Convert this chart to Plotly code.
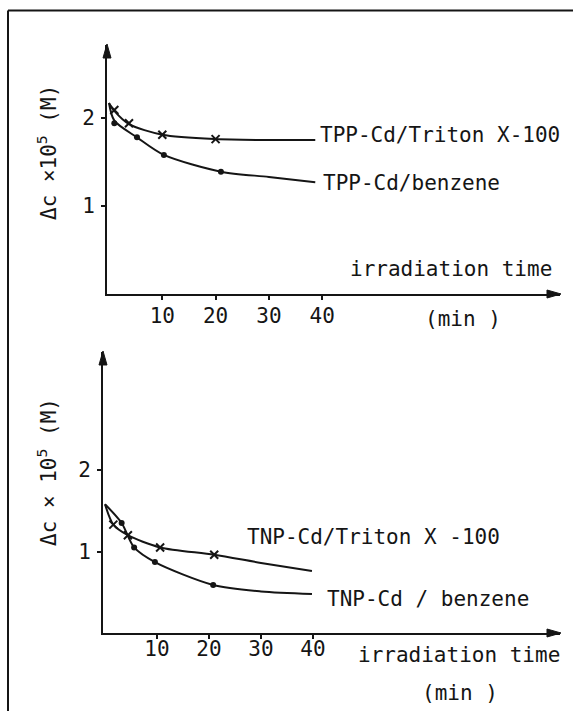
import plotly.graph_objects as go

W, H = 573, 711

# ---------------- data ----------------
# Top panel: TPP-Cd
tpp_triton_t = [1, 3.75, 10, 20]
tpp_triton_c = [2.09, 1.94, 1.81, 1.76]
tpp_triton_curve_t = [0, 1, 3.75, 10, 20, 30, 38.7]
tpp_triton_curve_c = [2.17, 2.08, 1.93, 1.81, 1.76, 1.75, 1.75]

tpp_benz_t = [1, 5.25, 10.3, 21]
tpp_benz_c = [1.94, 1.78, 1.58, 1.39]
tpp_benz_curve_t = [0, 1, 5.25, 10.3, 21, 30, 38.7]
tpp_benz_curve_c = [2.17, 1.97, 1.78, 1.58, 1.39, 1.33, 1.27]

# Bottom panel: TNP-Cd
tnp_triton_t = [1.6, 4.4, 10.6, 21]
tnp_triton_c = [1.33, 1.20, 1.05, 0.96]
tnp_triton_curve_t = [0, 1.6, 4.4, 10.6, 21, 30, 39.8]
tnp_triton_curve_c = [1.58, 1.33, 1.20, 1.05, 0.96, 0.86, 0.76]

tnp_benz_t = [3.2, 5.6, 9.6, 20.8]
tnp_benz_c = [1.35, 1.05, 0.87, 0.59]
tnp_benz_curve_t = [0, 3.2, 5.6, 9.6, 20.8, 30, 39.8]
tnp_benz_curve_c = [1.58, 1.35, 1.05, 0.87, 0.59, 0.51, 0.48]

x_tick_vals = [10, 20, 30, 40]
x_tick_text = ["10", "20", "30", "40"]
y_tick_vals = [1, 2]
y_tick_text = ["1", "2"]

label_tpp_triton = "TPP-Cd/Triton X-100"
label_tpp_benz = "TPP-Cd/benzene"
label_tnp_triton = "TNP-Cd/Triton X -100"
label_tnp_benz = "TNP-Cd / benzene"
x_title = "irradiation time"
x_unit = "(min )"
y_title_top = "Δc ×10<sup>5</sup> (M)"
y_title_bot = "Δc × 10<sup>5</sup> (M)"

FONT = "DejaVu Sans Mono, Liberation Mono, monospace"
FS = 21
INK = "#151515"


def px(x):
    return x / W


def py(y):
    return 1 - y / H


fig = go.Figure()

# top panel traces
for t, c in [(tpp_triton_curve_t, tpp_triton_curve_c), (tpp_benz_curve_t, tpp_benz_curve_c)]:
    fig.add_trace(go.Scatter(x=t, y=c, mode="lines", line=dict(color=INK, width=2, shape="spline", smoothing=0.8),
                             xaxis="x", yaxis="y", showlegend=False, hoverinfo="skip"))
fig.add_trace(go.Scatter(x=tpp_triton_t, y=tpp_triton_c, mode="markers",
                         marker=dict(symbol="x-thin", size=8, line=dict(width=2, color=INK), color=INK),
                         xaxis="x", yaxis="y", showlegend=False))
fig.add_trace(go.Scatter(x=tpp_benz_t, y=tpp_benz_c, mode="markers",
                         marker=dict(symbol="circle", size=6, color=INK),
                         xaxis="x", yaxis="y", showlegend=False))

# bottom panel traces
for t, c in [(tnp_triton_curve_t, tnp_triton_curve_c), (tnp_benz_curve_t, tnp_benz_curve_c)]:
    fig.add_trace(go.Scatter(x=t, y=c, mode="lines", line=dict(color=INK, width=2, shape="spline", smoothing=0.8),
                             xaxis="x2", yaxis="y2", showlegend=False, hoverinfo="skip"))
fig.add_trace(go.Scatter(x=tnp_triton_t, y=tnp_triton_c, mode="markers",
                         marker=dict(symbol="x-thin", size=8, line=dict(width=2, color=INK), color=INK),
                         xaxis="x2", yaxis="y2", showlegend=False))
fig.add_trace(go.Scatter(x=tnp_benz_t, y=tnp_benz_c, mode="markers",
                         marker=dict(symbol="circle", size=6, color=INK),
                         xaxis="x2", yaxis="y2", showlegend=False))

# axes geometry (pixels)
top_x0_px, top_x1_px = 107, 560
top_ppu = 5.33
top_t0 = 109
top_xr = [(top_x0_px - top_t0) / top_ppu, (top_x1_px - top_t0) / top_ppu]
top_y0_px, top_y1_px = 294, 45
top_yr = [0, (top_y0_px - top_y1_px) / 88.0]

bot_x0_px, bot_x1_px = 103, 560
bot_ppu = 5.2
bot_t0 = 105
bot_xr = [(bot_x0_px - bot_t0) / bot_ppu, (bot_x1_px - bot_t0) / bot_ppu]
bot_y0_px, bot_y1_px = 633, 352
bot_yr = [0, (bot_y0_px - bot_y1_px) / 81.5]

axis_common = dict(showgrid=False, zeroline=False, showline=True, linecolor=INK, linewidth=2,
                   ticks="outside", ticklen=4, tickwidth=2, tickcolor=INK,
                   tickfont=dict(family=FONT, size=FS, color=INK))

fig.update_layout(
    width=W, height=H, margin=dict(l=0, r=0, t=0, b=0),
    paper_bgcolor="white", plot_bgcolor="white",
    xaxis=dict(domain=[px(top_x0_px), px(top_x1_px)], range=top_xr, anchor="y",
               tickvals=x_tick_vals, ticktext=x_tick_text, ticklabelstandoff=-2, **axis_common),
    yaxis=dict(domain=[py(top_y0_px), py(top_y1_px)], range=top_yr, anchor="x",
               tickvals=y_tick_vals, ticktext=y_tick_text, ticklabelstandoff=2, **axis_common),
    xaxis2=dict(domain=[px(bot_x0_px), px(bot_x1_px)], range=bot_xr, anchor="y2",
                tickvals=x_tick_vals, ticktext=x_tick_text, ticklabelstandoff=-8, **axis_common),
    yaxis2=dict(domain=[py(bot_y0_px), py(bot_y1_px)], range=bot_yr, anchor="x2",
                tickvals=y_tick_vals, ticktext=y_tick_text, ticklabelstandoff=2, **axis_common),
)


# axis arrowheads drawn as thin filled triangles (pixel geometry of the axes)
def tri(points):
    path = "M " + " L ".join(f"{px(x):.5f},{py(y):.5f}" for x, y in points) + " Z"
    fig.add_shape(type="path", xref="paper", yref="paper", path=path,
                  fillcolor=INK, line=dict(color=INK, width=1))


for (x0, x1, y0, y1) in [(top_x0_px, top_x1_px, top_y0_px, top_y1_px),
                         (bot_x0_px, bot_x1_px, bot_y0_px, bot_y1_px)]:
    tri([(x1 + 1, y0), (x1 - 13, y0 - 4), (x1 - 13, y0 + 4)])
    tri([(x0, y1 - 1), (x0 - 4, y1 + 13), (x0 + 4, y1 + 13)])


# text labels
def label(text, xpx, ypx, anchor="left", angle=0):
    fig.add_annotation(text=text, x=px(xpx), y=py(ypx), xref="paper", yref="paper",
                       xanchor=anchor, yanchor="middle", showarrow=False, textangle=angle,
                       font=dict(family=FONT, size=FS, color=INK))


label(label_tpp_triton, 318, 135)
label(label_tpp_benz, 321, 183)
label(x_title, 348, 269)
label(x_unit, 423, 319)
label(label_tnp_triton, 245, 537)
label(label_tnp_benz, 325, 599)
label(x_title, 356, 655)
label(x_unit, 420, 693)
label(y_title_top, 47, 153, anchor="center", angle=-90)
label(y_title_bot, 47, 472, anchor="center", angle=-90)

# page frame
fig.add_shape(type="line", xref="paper", yref="paper", x0=px(8), y0=py(10.5), x1=1, y1=py(10.5),
              line=dict(color=INK, width=2))
fig.add_shape(type="line", xref="paper", yref="paper", x0=px(8), y0=py(10.5), x1=px(8), y1=0,
              line=dict(color=INK, width=2))

fig.write_html("out.html")
